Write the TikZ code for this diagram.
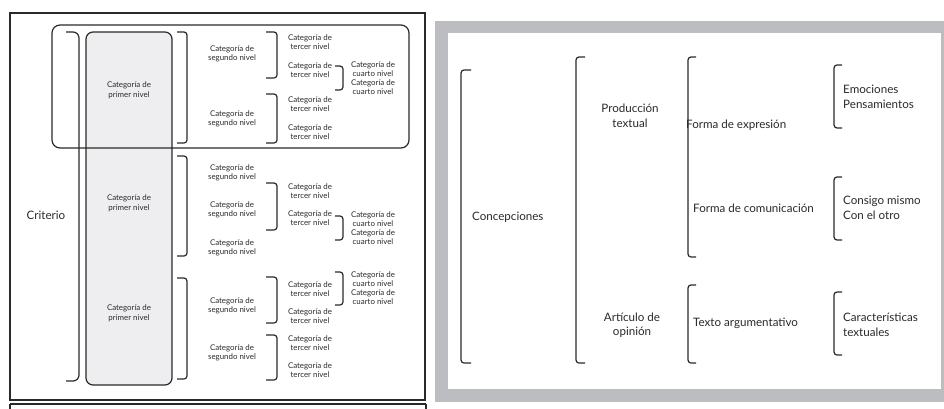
\documentclass[tikz,border=0pt]{standalone}
\usepackage{fontspec}
\setmainfont{Lato}
\definecolor{ink}{HTML}{2A2A2A}
\definecolor{framegray}{HTML}{BCBDC0}
\definecolor{boxgray}{HTML}{EEEEF0}
\tikzset{
  brk/.style={draw=ink, line width=1.2pt, rounded corners=3pt},
  bigbrk/.style={draw=ink, line width=1.2pt, rounded corners=6pt},
  small/.style={font=\fontsize{7.9}{9.6}\selectfont, align=center, inner sep=0pt, text=ink},
  tiny4/.style={font=\fontsize{7.9}{8.8}\selectfont, align=center, inner sep=0pt, text=ink},
  big/.style={font=\fontsize{11.6}{14.5}\selectfont, inner sep=0pt, text=ink},
  frame/.style={draw=ink, line width=1.4pt}
}
\newcommand\rbrk[4]{\draw[brk] (#1,#3) -- (#2,#3) -- (#2,#4) -- (#1,#4);}
\newcommand\lbrk[4]{\draw[brk] (#2,#3) -- (#1,#3) -- (#1,#4) -- (#2,#4);}
\begin{document}
\begin{tikzpicture}[x=1pt,y=-1pt]
\useasboundingbox (0,0) rectangle (944,408);
% ---------------- left panel ----------------
\draw[frame] (10,13) rectangle (425,400);
\draw[frame] (10,404) -- (10,412);
\draw[frame] (426,404) -- (426,412);
\draw[frame] (10,404) -- (426,404);
% gray first-level column
\draw[draw=ink, line width=1.2pt, fill=boxgray, rounded corners=7pt] (86,32) rectangle (172,385);
% highlight rounded rectangle
\draw[draw=ink, line width=1.2pt, rounded corners=8pt] (52,25) rectangle (409,148);
% Criterio bracket
\draw[bigbrk] (66,32) -- (79,32) -- (79,381) -- (66,381);
\node[big] (crit) at (46,215) {Criterio};
% first level labels
\node[small] (p1) at (129,90) {Categoría de\\primer nivel};
\node[small] (p2) at (129,203) {Categoría de\\primer nivel};
\node[small] (p3) at (129,313) {Categoría de\\primer nivel};
% second-level brackets
\rbrk{177}{187}{32}{143}
\rbrk{177}{187}{156}{256}
\rbrk{177}{187}{278}{379}
% second-level labels
\node[small] (s1) at (232,54) {Categoría de\\segundo nivel};
\node[small] (s2) at (232,119) {Categoría de\\segundo nivel};
\node[small] (s3) at (232,173) {Categoría de\\segundo nivel};
\node[small] (s4) at (232,210) {Categoría de\\segundo nivel};
\node[small] (s5) at (232,248) {Categoría de\\segundo nivel};
\node[small] (s6) at (232,306) {Categoría de\\segundo nivel};
\node[small] (s7) at (232,353) {Categoría de\\segundo nivel};
% third-level brackets
\rbrk{266}{277}{32}{78}
\rbrk{266}{277}{94}{143}
\rbrk{266}{277}{183}{230}
\rbrk{266}{277}{277}{323}
\rbrk{266}{277}{335}{380}
% third-level labels
\node[small] (t1) at (310,42) {Categoría de\\tercer nivel};
\node[small] (t2) at (310,70) {Categoría de\\tercer nivel};
\node[small] (t3) at (310,104) {Categoría de\\tercer nivel};
\node[small] (t4) at (310,132) {Categoría de\\tercer nivel};
\node[small] (t5) at (310,191) {Categoría de\\tercer nivel};
\node[small] (t6) at (310,218) {Categoría de\\tercer nivel};
\node[small] (t7) at (310,289) {Categoría de\\tercer nivel};
\node[small] (t8) at (310,316) {Categoría de\\tercer nivel};
\node[small] (t9) at (310,343) {Categoría de\\tercer nivel};
\node[small] (t10) at (310,370) {Categoría de\\tercer nivel};
% fourth-level brackets
\rbrk{335}{343}{66}{90}
\rbrk{335}{343}{216}{240}
\rbrk{335}{343}{272}{305}
% fourth-level labels
\node[tiny4] (c1) at (373,78) {Categoría de\\cuarto nivel\\Categoría de\\cuarto nivel};
\node[tiny4] (c2) at (373,228) {Categoría de\\cuarto nivel\\Categoría de\\cuarto nivel};
\node[tiny4] (c3) at (373,288) {Categoría de\\cuarto nivel\\Categoría de\\cuarto nivel};
% ---------------- right panel ----------------
\fill[framegray] (435,21) rectangle (950,402);
\fill[white] (448,33) rectangle (941,389);
% brackets
\lbrk{461}{471}{70}{363}
\lbrk{576}{585}{57}{363}
\lbrk{688}{696}{57}{257}
\lbrk{688}{696}{285}{363}
\lbrk{834}{842}{65}{128}
\lbrk{834}{842}{177}{240}
\lbrk{834}{842}{292}{355}
% labels
\node[big, anchor=west] (conc) at (472,217) {Concepciones};
\node[big, align=center] (prod) at (630,116) {Producción\\textual};
\node[big, align=center] (art) at (632,325) {Artículo de\\opinión};
\node[big, anchor=west] (fexp) at (686,125) {Forma de expresión};
\node[big, anchor=west] (fcom) at (693,208) {Forma de comunicación};
\node[big, anchor=west] (targ) at (693,323) {Texto argumentativo};
\node[big, anchor=west, align=left] (emo) at (843,97) {Emociones\\Pensamientos};
\node[big, anchor=west, align=left] (cons) at (843,208) {Consigo mismo\\Con el otro};
\node[big, anchor=west, align=left] (car) at (843,325) {Características\\textuales};
\end{tikzpicture}
\end{document}
